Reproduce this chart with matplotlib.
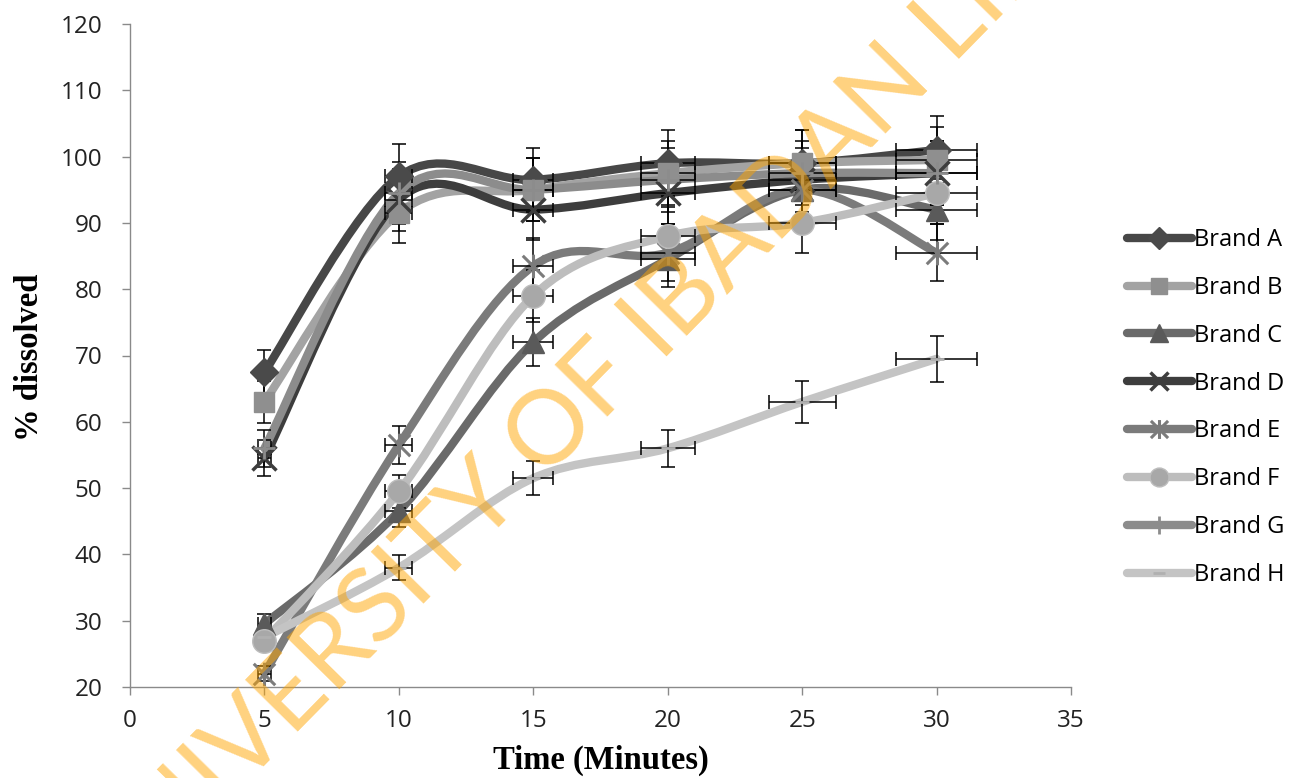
import matplotlib
matplotlib.use('Agg')
import matplotlib.pyplot as plt
from matplotlib.path import Path
from matplotlib.patches import PathPatch
from matplotlib.lines import Line2D

# ---------------- data ----------------
time_min = [5, 10, 15, 20, 25, 30]
brand_a = [67.5, 97.0, 96.5, 99.0, 99.0, 101.0]
brand_b = [63.0, 91.5, 95.0, 97.5, 99.0, 99.5]
brand_c = [29.5, 46.5, 72.0, 84.5, 95.0, 92.0]
brand_d = [54.5, 93.5, 92.0, 94.5, 96.5, 97.5]
brand_e = [22.0, 56.5, 83.5, 85.5, 95.0, 85.5]
brand_f = [27.0, 49.5, 79.0, 88.0, 90.0, 94.5]
brand_g = [56.0, 94.5, 95.0, 96.5, 97.5, 97.5]
brand_h = [27.5, 38.0, 51.5, 56.0, 63.0, 69.5]
series_names = ['Brand A', 'Brand B', 'Brand C', 'Brand D',
                'Brand E', 'Brand F', 'Brand G', 'Brand H']
error_pct = 5.0  # percentage error bars (x and y)

x_ticks = [0, 5, 10, 15, 20, 25, 30, 35]
y_ticks = [20, 30, 40, 50, 60, 70, 80, 90, 100, 110, 120]
x_label = 'Time (Minutes)'
y_label = '% dissolved'
watermark = 'UNIVERSITY OF IBADAN LIBRARY'

series_values = [brand_a, brand_b, brand_c, brand_d,
                 brand_e, brand_f, brand_g, brand_h]

# ---------------- style ----------------
star = Path([(-1, -1), (1, 1), (-1, 1), (1, -1), (0, -1.1), (0, 1.1)],
            [Path.MOVETO, Path.LINETO, Path.MOVETO, Path.LINETO,
             Path.MOVETO, Path.LINETO])
styles = [
    dict(lc='#474747', marker='D', ms=14, mfc='#4a4a4a', mec='#4a4a4a', mew=1),
    dict(lc='#a3a3a3', marker='s', ms=15, mfc='#8f8f8f', mec='#8f8f8f', mew=1),
    dict(lc='#6a6a6a', marker='^', ms=16, mfc='#5a5a5a', mec='#5a5a5a', mew=1),
    dict(lc='#3d3d3d', marker='x', ms=17, mfc='#3d3d3d', mec='#3d3d3d', mew=2.5),
    dict(lc='#7b7b7b', marker=star, ms=17, mfc='none', mec='#7b7b7b', mew=2.2),
    dict(lc='#bdbdbd', marker='o', ms=17, mfc='#a8a8a8', mec='#bdbdbd', mew=1),
    dict(lc='#8c8c8c', marker='+', ms=16, mfc='#8c8c8c', mec='#8c8c8c', mew=2),
    dict(lc='#c4c4c4', marker='_', ms=10, mfc='#b0b0b0', mec='#b0b0b0', mew=2),
]
LW = 6.0

fig = plt.figure(figsize=(12.92, 7.78), dpi=100)
ax = fig.add_axes([130 / 1292, 91 / 778, 941 / 1292, 663 / 778])


def smooth_path(xs, ys):
    pts = list(zip(xs, ys))
    n = len(pts)
    verts = [pts[0]]
    codes = [Path.MOVETO]
    for i in range(n - 1):
        p0 = pts[i - 1] if i > 0 else pts[i]
        p1 = pts[i]
        p2 = pts[i + 1]
        p3 = pts[i + 2] if i + 2 < n else pts[i + 1]
        c1 = (p1[0] + (p2[0] - p0[0]) / 6.0, p1[1] + (p2[1] - p0[1]) / 6.0)
        c2 = (p2[0] - (p3[0] - p1[0]) / 6.0, p2[1] - (p3[1] - p1[1]) / 6.0)
        verts += [c1, c2, p2]
        codes += [Path.CURVE4] * 3
    return Path(verts, codes)


handles = []
for k, (name, vals, st) in enumerate(zip(series_names, series_values, styles)):
    patch = PathPatch(smooth_path(time_min, vals), facecolor='none',
                      edgecolor=st['lc'], lw=LW, capstyle='round',
                      joinstyle='round', zorder=2 + k * 0.01)
    ax.add_patch(patch)
    xerr = [t * error_pct / 100.0 for t in time_min]
    yerr = [v * error_pct / 100.0 for v in vals]
    ax.errorbar(time_min, vals, xerr=xerr, yerr=yerr, fmt='none',
                ecolor='black', elinewidth=1.1, capsize=5, capthick=1.1,
                zorder=3 + k * 0.01)
    ax.plot(time_min, vals, linestyle='none', marker=st['marker'],
            ms=st['ms'], mfc=st['mfc'], mec=st['mec'], mew=st['mew'],
            zorder=4 + k * 0.01)
    handles.append(Line2D([], [], color=st['lc'], lw=LW, solid_capstyle='round',
                          marker=st['marker'], ms=st['ms'] * 0.8,
                          mfc=st['mfc'], mec=st['mec'], mew=st['mew'],
                          label=name))

ax.set_xlim(0, 35)
ax.set_ylim(20, 120)
ax.set_xticks(x_ticks)
ax.set_yticks(y_ticks)
for s in ['top', 'right']:
    ax.spines[s].set_visible(False)
for s in ['left', 'bottom']:
    ax.spines[s].set_color('#8a8a8a')
    ax.spines[s].set_linewidth(1.0)
ax.tick_params(axis='both', direction='out', length=6, width=1.0,
               color='#8a8a8a', labelsize=17.5, labelcolor='#222222')
ax.tick_params(axis='y', pad=14)
ax.tick_params(axis='x', pad=10)
for lab in ax.get_xticklabels() + ax.get_yticklabels():
    lab.set_family('Open Sans')

fig.text(601 / 1292, 1 - 760 / 778, x_label, ha='center', va='center',
         fontsize=23.5, fontweight='bold', family='Liberation Serif')
fig.text(30 / 1292, 1 - 357 / 778, y_label, ha='center', va='center',
         rotation=90, fontsize=23.5, fontweight='bold', family='Liberation Serif')

leg = fig.legend(handles=handles, loc='upper left',
                 bbox_to_anchor=(1127 / 1292, 1 - 228 / 778),
                 frameon=False, handlelength=2.75, handletextpad=0.1,
                 labelspacing=1.01, borderaxespad=0, borderpad=0,
                 prop={'family': 'Open Sans', 'size': 17})

fig.text(657 / 1292, 1 - 325 / 778, watermark, rotation=45.5,
         rotation_mode='anchor', ha='center', va='center', fontsize=74,
         color='#FFA500', alpha=0.5, family='Lato', zorder=10)

fig.savefig('out.png', dpi=100)
